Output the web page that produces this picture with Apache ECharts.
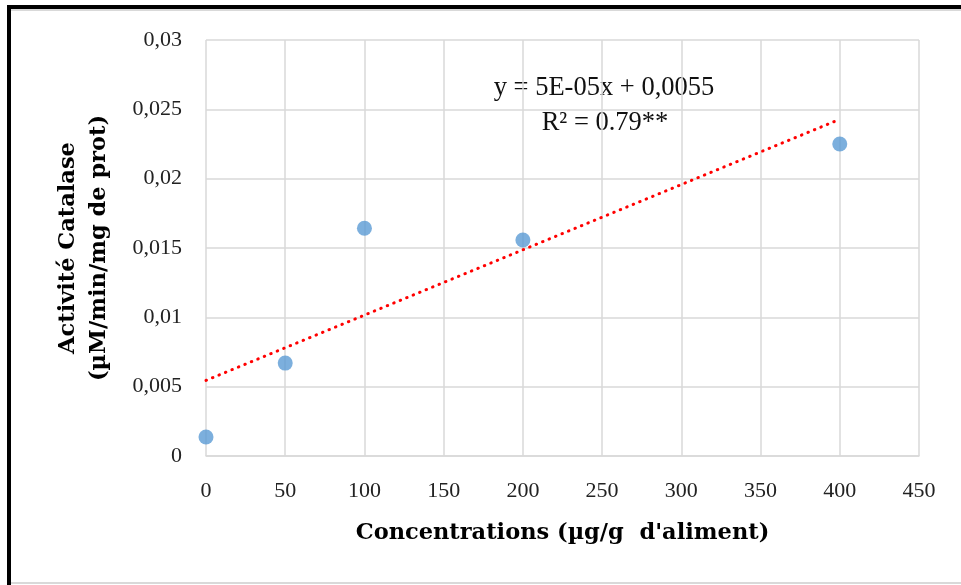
<!DOCTYPE html>
<html>
<head>
<meta charset="utf-8">
<script src="https://cdn.jsdelivr.net/npm/echarts@6/dist/echarts.min.js"></script>
<style>
html,body{margin:0;padding:0;background:#fff;}
#c{position:absolute;left:0;top:0;width:961px;height:585px;}
.b{position:absolute;}
</style>
</head>
<body>
<div id="c"></div>
<div class="b" style="left:7px;top:5px;width:954px;height:4px;background:#000"></div>
<div class="b" style="left:11px;top:9px;width:950px;height:2px;background:#d9d9d9"></div>
<div class="b" style="left:7px;top:5px;width:4px;height:580px;background:#000"></div>
<div class="b" style="left:11px;top:582px;width:950px;height:2px;background:#d9d9d9"></div>
<script>
const concentrations = [0, 50, 100, 200, 400];
const catalase = [0.00137, 0.0067, 0.01642, 0.01558, 0.0225];
const xTicks = {min: 0, max: 450, interval: 50};
const yTicks = {min: 0, max: 0.03, interval: 0.005};
const equationText = 'y = 5E-05x + 0,0055';
const r2Text = 'R² = 0.79**';
const xTitle = "Concentrations (µg/g  d'aliment)";
const yTitle = 'Activité Catalase\n(µM/min/mg de prot)';

// least squares fit
const n = concentrations.length;
const mx = concentrations.reduce((a,b)=>a+b,0)/n;
const my = catalase.reduce((a,b)=>a+b,0)/n;
let sxy=0, sxx=0;
for(let i=0;i<n;i++){sxy+=(concentrations[i]-mx)*(catalase[i]-my);sxx+=(concentrations[i]-mx)**2;}
const slope=sxy/sxx, icpt=my-slope*mx;
const xs0=Math.min(...concentrations), xs1=Math.max(...concentrations);
const trend=[[xs0, icpt+slope*xs0],[xs1, icpt+slope*xs1]];

const serif='"Liberation Serif", "DejaVu Serif", serif';
const chart=echarts.init(document.getElementById('c'));
chart.setOption({
  backgroundColor:'#fff',
  animation:false,
  grid:{left:206,right:42,top:40,bottom:129},
  xAxis:{type:'value',min:xTicks.min,max:xTicks.max,interval:xTicks.interval,
    name:xTitle,nameLocation:'middle',nameGap:66,
    nameTextStyle:{fontFamily:'"DejaVu Serif", serif',fontWeight:'bold',fontSize:22.5,color:'#000'},
    axisLine:{show:true,lineStyle:{color:'#d9d9d9',width:1.5}},axisTick:{show:false},
    axisLabel:{fontFamily:serif,fontSize:22,color:'#222',margin:24},
    splitLine:{show:true,lineStyle:{color:'#d9d9d9',width:1.5}}},
  yAxis:{type:'value',min:yTicks.min,max:yTicks.max,interval:yTicks.interval,
    name:yTitle,nameLocation:'middle',nameGap:91,
    nameTextStyle:{fontFamily:'"DejaVu Serif", serif',fontWeight:'bold',fontSize:22.5,color:'#000',lineHeight:31},
    axisLine:{show:false},axisTick:{show:false},
    axisLabel:{fontFamily:serif,fontSize:22,color:'#222',margin:24,
      formatter:v=>String(+v.toFixed(4)).replace('.',',')},
    splitLine:{show:true,lineStyle:{color:'#d9d9d9',width:1.5}}},
  series:[
    {type:'line',data:trend,symbol:'none',silent:true,z:3,
      lineStyle:{color:'#ff0000',width:3,type:[0.5,6.5],cap:'round'}},
    {type:'scatter',data:concentrations.map((x,i)=>[x,catalase[i]]),symbolSize:15,z:4,
      itemStyle:{color:'#5b9bd5'}}
  ],
  graphic:[
    {type:'text',x:604,y:88,style:{text:equationText,font:'26.5px "Liberation Serif", serif',fill:'#111',align:'center',verticalAlign:'middle'}},
    {type:'text',x:605,y:123,style:{text:r2Text,font:'26.5px "Liberation Serif", serif',fill:'#111',align:'center',verticalAlign:'middle'}}
  ]
});
</script>
</body>
</html>
